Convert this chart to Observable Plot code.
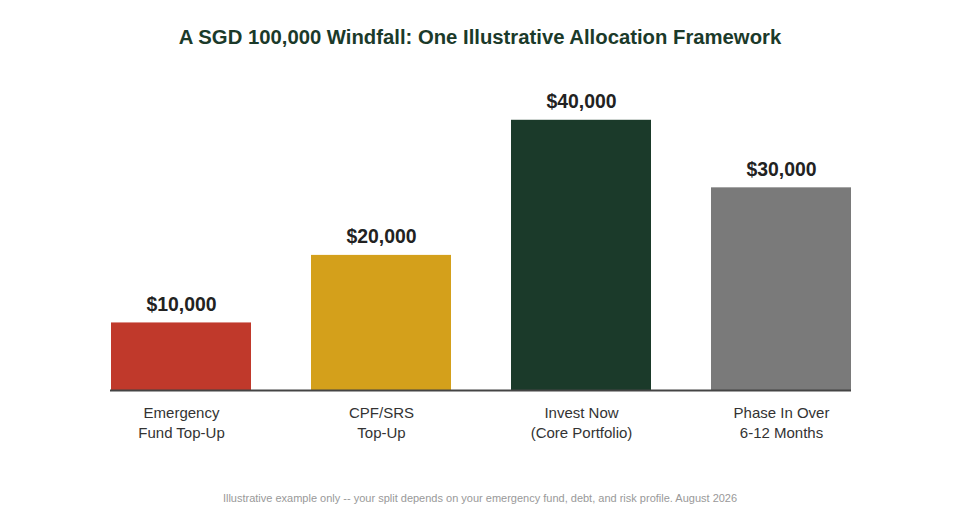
<!DOCTYPE html>
<html>
<head>
<meta charset="utf-8">
<script src="https://cdn.jsdelivr.net/npm/d3@7"></script>
<script src="https://cdn.jsdelivr.net/npm/@observablehq/plot@0.6"></script>
<style>
  html, body { margin: 0; padding: 0; background: #fff; }
  #wrap { position: relative; width: 960px; height: 520px; font-family: "Liberation Sans", Arial, sans-serif; }
  #title { position: absolute; left: 0; top: 26px; width: 960px; text-align: center; font-size: 20.3px; font-weight: bold; color: #1b3a2a; }
  #chart { position: absolute; left: 0; top: 0; }
  #foot { position: absolute; left: 0; top: 492px; width: 960px; text-align: center; font-size: 11px; color: #999; }
</style>
</head>
<body>
<div id="wrap">
  <div id="chart"></div>
  <div id="title">A SGD 100,000 Windfall: One Illustrative Allocation Framework</div>
  <div id="foot">Illustrative example only -- your split depends on your emergency fund, debt, and risk profile. August 2026</div>
</div>
<script>
const categories = ["Emergency\nFund Top-Up", "CPF/SRS\nTop-Up", "Invest Now\n(Core Portfolio)", "Phase In Over\n6-12 Months"];
const amounts = [10000, 20000, 40000, 30000];
const colors = ["#c0392b", "#d4a01b", "#1b3a2a", "#7a7a7a"];
const valueLabels = ["$10,000", "$20,000", "$40,000", "$30,000"];

const data = categories.map((c, i) => ({category: c, amount: amounts[i], color: colors[i], label: valueLabels[i]}));

const chart = Plot.plot({
  width: 960,
  height: 520,
  marginLeft: 110,
  marginRight: 109,
  marginTop: 86,
  marginBottom: 130,
  style: {fontFamily: "\"Liberation Sans\", Arial, sans-serif", background: "transparent"},
  x: {domain: categories, paddingInner: 0.3, paddingOuter: 0, label: null},
  y: {domain: [0, 45000], axis: null},
  marks: [
    Plot.barY(data, {x: "category", y: "amount", fill: "color"}),
    Plot.ruleY([0], {stroke: "#444", strokeWidth: 2}),
    Plot.text(data, {x: "category", y: "amount", text: "label", lineAnchor: "bottom", dy: -12, fontSize: 19.4, fontWeight: "bold", fill: "#222"}),
    Plot.axisX({tickSize: 0, tickPadding: 13, fontSize: 15, lineHeight: 1.33, fill: "#333", label: null})
  ]
});
document.getElementById("chart").appendChild(chart);
</script>
</body>
</html>
